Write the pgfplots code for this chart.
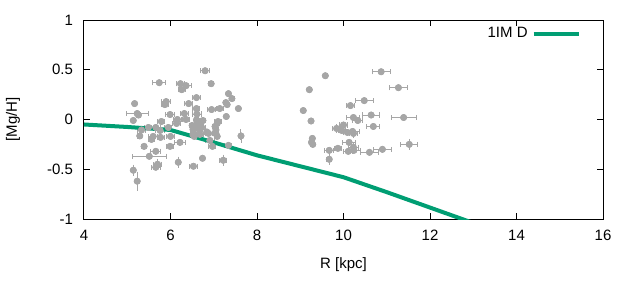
\documentclass[border=0pt]{standalone}
\usepackage{pgfplots}
\pgfplotsset{compat=1.18}
\usepackage{pgfplotstable}
\usepackage{fontspec}
\setmainfont{Liberation Sans}
\definecolor{pgreen}{HTML}{009E73}
\definecolor{pgray}{HTML}{A6A6A6}

\pgfplotstableread{
x y ex ey
5.74 0.37 0.15 0
6.80 0.49 0.10 0
6.23 0.36 0.10 0
6.36 0.34 0.12 0
6.26 0.30 0.08 0
6.94 0.36 0.05 0
7.34 0.26 0.05 0
7.42 0.21 0.05 0
6.60 0.22 0.10 0
5.17 0.16 0.0 0
5.90 0.18 0.10 0
5.87 0.15 0.08 0
6.42 0.16 0.10 0
7.28 0.17 0.04 0
7.31 0.15 0.04 0
6.60 0.11 0.08 0
6.95 0.10 0.10 0
7.14 0.11 0.08 0
7.57 0.11 0.0 0
5.23 0.06 0.25 0
5.26 0.045 0.05 0
5.99 0.05 0.10 0
6.32 0.06 0.10 0
6.61 0.055 0.10 0
7.29 0.03 0.04 0
5.14 -0.01 0.05 0
5.79 -0.02 0.08 0
6.16 0.00 0.10 0
6.14 -0.04 0.10 0
6.36 0.00 0.08 0
6.60 -0.005 0.05 0
6.65 -0.02 0.08 0
6.70 -0.04 0.05 0
6.62 -0.06 0.05 0
6.72 -0.08 0.08 0
6.68 -0.10 0.05 0
6.75 -0.01 0.05 0
6.58 -0.09 0.05 0
7.10 -0.02 0.08 0
7.08 -0.04 0.05 0
7.03 -0.07 0.05 0
7.05 -0.105 0.05 0
6.50 -0.06 0.05 0
6.52 -0.10 0.05 0
5.33 -0.105 0.10 0
5.49 -0.08 0.08 0
5.66 -0.08 0.10 0
5.76 -0.11 0.10 0
5.95 -0.08 0.08 0
5.29 -0.165 0.05 0
5.60 -0.17 0.10 0
5.56 -0.20 0.08 0
5.77 -0.18 0.08 0
6.00 -0.17 0.10 0
6.52 -0.155 0.05 0
6.68 -0.15 0.08 0
6.84 -0.125 0.05 0
6.88 -0.14 0.08 0
7.05 -0.14 0.05 0
7.08 -0.17 0.05 0
7.63 -0.165 0.0 0.04
6.22 -0.23 0.12 0
6.55 -0.17 0.05 0
6.91 -0.21 0.10 0
6.97 -0.27 0.08 0
7.34 -0.26 0.08 0
5.39 -0.27 0.05 0
5.99 -0.27 0.08 0
5.66 -0.32 0.12 0
5.51 -0.37 0.40 0
5.70 -0.45 0.10 0.03
5.66 -0.48 0.10 0
6.18 -0.43 0.05 0.03
6.53 -0.47 0.10 0
6.74 -0.39 0.05 0
7.22 -0.41 0.08 0.03
5.14 -0.51 0.05 0.03
5.23 -0.62 0.03 0.07
10.87 0.48 0.21 0
9.58 0.44 0.05 0
11.27 0.32 0.21 0
9.21 0.30 0.05 0
10.48 0.19 0.21 0
10.16 0.14 0.10 0
9.07 0.09 0 0
10.64 0.045 0.20 0
11.39 0.02 0.29 0
10.23 0.02 0.15 0
10.33 -0.01 0.12 0
9.25 -0.015 0.03 0
10.69 -0.07 0.15 0
10.0 -0.055 0.10 0
9.84 -0.09 0.10 0.02
9.96 -0.11 0.08 0
10.09 -0.13 0.10 0
10.21 -0.12 0.15 0
10.23 -0.14 0.10 0.02
9.28 -0.19 0.03 0
9.26 -0.23 0.05 0
9.29 -0.25 0.03 0
10.13 -0.23 0.15 0
11.52 -0.25 0.20 0.03
10.23 -0.28 0.12 0.02
9.87 -0.29 0.08 0
9.67 -0.31 0.10 0
10.11 -0.32 0.10 0
10.24 -0.31 0.15 0
10.60 -0.33 0.20 0
10.90 -0.30 0.20 0
9.67 -0.40 0.06 0.03
}\obsdata

\pgfplotstableread{
x y
4 -0.05
5 -0.075
6 -0.105
7 -0.23
8 -0.36
9 -0.47
10 -0.58
11 -0.73
12 -0.885
13 -1.04
}\modeldata

\begin{document}
\begin{tikzpicture}[font=\fontsize{7.5}{9}\selectfont]
\useasboundingbox (-42pt,-30.5pt) rectangle (273pt,109.5pt);
\begin{axis}[
  scale only axis,
  width=259.5pt, height=99.5pt,
  at={(0,0)}, anchor=south west,
  xmin=4, xmax=16, ymin=-1, ymax=1,
  xtick={4,6,...,16}, ytick={-1,-0.5,0,0.5,1},
  tick align=inside, tick pos=both,
  major tick length=3pt,
  axis line style={line width=0.5pt},
  every tick/.style={black, line width=0.5pt},
  /pgf/number format/assume math mode=true,
  xticklabel style={yshift=-2pt},
  yticklabel style={xshift=-2pt},
  xlabel={R [kpc]}, ylabel={[Mg/H]},
  every axis x label/.style={at={(axis description cs:0.5,0)}, yshift=-23pt, anchor=center},
  every axis y label/.style={at={(axis description cs:0,0.5)}, xshift=-35.5pt, rotate=90, anchor=center},
  legend plot pos=right,
  legend style={at={(1,1)}, anchor=north east, xshift=-8pt, yshift=0.5pt, draw=none, fill=none, font=\fontsize{7.5}{9}\selectfont},
  legend image code/.code={\draw[#1] (0pt,0pt) -- (22.5pt,0pt);},
]
\addplot[forget plot, only marks, pgray, mark=*, mark size=1.5pt, mark options={fill=pgray, draw=pgray},
  error bars/.cd, x dir=both, x explicit,
  error bar style={line width=0.5pt, pgray},
  error mark=|,
  error mark options={mark size=1.3pt, line width=0.5pt, pgray}]
  table[x=x, y=y, x error=ex] {\obsdata};
\addplot[forget plot, only marks, pgray, mark=*, mark size=1.5pt, mark options={fill=pgray, draw=pgray},
  error bars/.cd, y dir=both, y explicit,
  error bar style={line width=0.5pt, pgray},
  error mark=-,
  error mark options={mark size=1.3pt, line width=0.5pt, pgray}]
  table[x=x, y=y, y error=ey] {\obsdata};
\addplot[pgreen, line width=2pt] table[x=x, y=y] {\modeldata};
\addlegendentry{1IM D}
\end{axis}
\end{tikzpicture}
\end{document}
